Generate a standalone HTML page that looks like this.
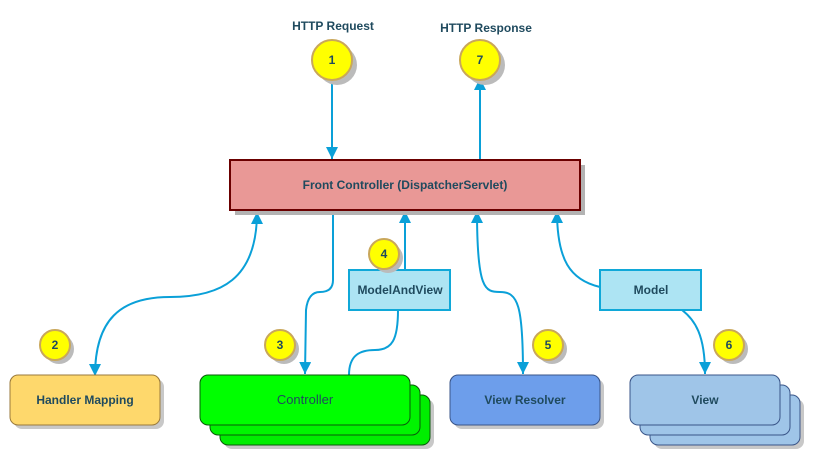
<!DOCTYPE html>
<html><head><meta charset="utf-8"><style>
html,body{margin:0;padding:0;background:#fff;}
svg{display:block;font-family:"Liberation Sans",Arial,sans-serif;}
text{fill:#1f4a5e;font-size:12px;font-weight:bold;text-anchor:middle;}
</style></head><body>
<svg width="820" height="465" viewBox="0 0 820 465" xmlns="http://www.w3.org/2000/svg">
<defs>
<marker id="ah" markerWidth="12" markerHeight="14" refX="12" refY="6" orient="auto-start-reverse" markerUnits="userSpaceOnUse">
<path d="M0,0 L12,6 L0,12 z" fill="#0aa0d8"/>
</marker>
</defs>
<text x="333" y="30">HTTP Request</text>
<text x="486" y="32">HTTP Response</text>

<g stroke="#0aa0d8" stroke-width="2" fill="none">
<path d="M332,80 L332,159" marker-end="url(#ah)"/>
<path d="M480,159 L480,78" marker-end="url(#ah)"/>
<path d="M257,212 C257,280 220,297 170,297 C120,297 95,320 95,376" marker-start="url(#ah)" marker-end="url(#ah)"/>
<path d="M333,210 L333,280 Q333,292 320,292 Q308,292 306,310 L305,374" marker-end="url(#ah)"/>
<path d="M349,375 C349,355 360,350 375,350 C392,350 398,340 398,310"/>
<path d="M405,270 L405,211" marker-end="url(#ah)"/>
<path d="M477,211 C477,290 485,292 500,292 C518,292 523,305 523,374" marker-start="url(#ah)" marker-end="url(#ah)"/>
<path d="M600,287 C570,280 557,260 557,211" marker-end="url(#ah)"/>
<path d="M682,310 C695,320 705,335 705,374" marker-end="url(#ah)"/>
</g>

<rect x="235" y="165" width="350" height="50" fill="#b3b3b3"/>
<rect x="230" y="160" width="350" height="50" fill="#e99896" stroke="#6b0000" stroke-width="2"/>
<text x="405" y="189">Front Controller (DispatcherServlet)</text>

<rect x="349" y="270" width="101" height="40" fill="#ade4f3" stroke="#10a8d8" stroke-width="2"/>
<text x="400" y="294">ModelAndView</text>
<rect x="600" y="270" width="101" height="40" fill="#ade4f3" stroke="#10a8d8" stroke-width="2"/>
<text x="651" y="294">Model</text>

<rect x="14" y="379" width="150" height="50" rx="8" fill="#c8c8c8"/>
<rect x="10" y="375" width="150" height="50" rx="8" fill="#fed86c" stroke="#9a7a3c"/>
<text x="85" y="404">Handler Mapping</text>

<rect x="224" y="399" width="210" height="50" rx="8" fill="#c8c8c8"/>
<rect x="220" y="395" width="210" height="50" rx="8" fill="#00ee00" stroke="#0a5a0a"/>
<rect x="210" y="385" width="210" height="50" rx="8" fill="#00f500" stroke="#0a5a0a"/>
<rect x="200" y="375" width="210" height="50" rx="8" fill="#00ff00" stroke="#0a5a0a"/>
<text x="305" y="404" style="font-weight:normal;font-size:13px">Controller</text>

<rect x="454" y="379" width="150" height="50" rx="8" fill="#c8c8c8"/>
<rect x="450" y="375" width="150" height="50" rx="8" fill="#6d9eeb" stroke="#3a5588"/>
<text x="525" y="404">View Resolver</text>

<rect x="654" y="399" width="150" height="50" rx="8" fill="#c8c8c8"/>
<rect x="650" y="395" width="150" height="50" rx="8" fill="#9fc5e8" stroke="#3a5588"/>
<rect x="640" y="385" width="150" height="50" rx="8" fill="#9fc5e8" stroke="#3a5588"/>
<rect x="630" y="375" width="150" height="50" rx="8" fill="#9fc5e8" stroke="#3a5588"/>
<text x="705" y="404">View</text>

<g stroke="#c9a75a" stroke-width="2">
<circle cx="337" cy="65" r="20" fill="#bbb" stroke="none"/>
<circle cx="332" cy="60" r="20" fill="#ffff00"/>
<circle cx="485" cy="65" r="20" fill="#bbb" stroke="none"/>
<circle cx="480" cy="60" r="20" fill="#ffff00"/>
<circle cx="59" cy="349" r="15" fill="#bbb" stroke="none"/>
<circle cx="55" cy="345" r="15" fill="#ffff00"/>
<circle cx="284" cy="349" r="15" fill="#bbb" stroke="none"/>
<circle cx="280" cy="345" r="15" fill="#ffff00"/>
<circle cx="388" cy="258" r="15" fill="#bbb" stroke="none"/>
<circle cx="384" cy="254" r="15" fill="#ffff00"/>
<circle cx="552" cy="349" r="15" fill="#bbb" stroke="none"/>
<circle cx="548" cy="345" r="15" fill="#ffff00"/>
<circle cx="733" cy="349" r="15" fill="#bbb" stroke="none"/>
<circle cx="729" cy="345" r="15" fill="#ffff00"/>
</g>
<text x="332" y="64">1</text>
<text x="480" y="64">7</text>
<text x="55" y="349">2</text>
<text x="280" y="349">3</text>
<text x="384" y="258">4</text>
<text x="548" y="349">5</text>
<text x="729" y="349">6</text>
</svg>
</body></html>
